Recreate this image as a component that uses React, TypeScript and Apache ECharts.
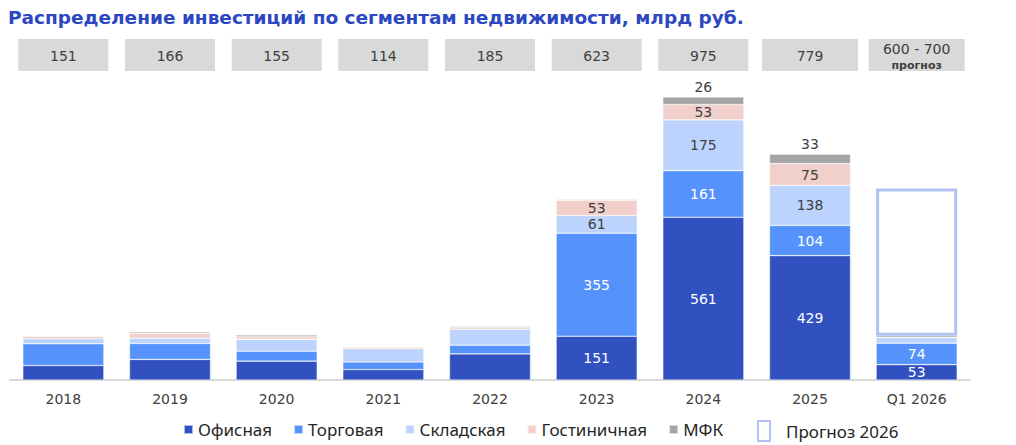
import React, { useEffect, useRef } from "react";
import * as echarts from "echarts";

const categories = ["2018", "2019", "2020", "2021", "2022", "2023", "2024", "2025", "Q1 2026"];
const office = [50, 71, 65, 36, 90, 151, 561, 429, 53];
const retail = [75, 55, 34, 26, 30, 355, 161, 104, 74];
const warehouse = [17, 18, 41, 46, 55, 61, 175, 138, 20];
const hotel = [9, 17, 9, 6, 6, 53, 53, 75, 0];
const mfk = [0, 5, 6, 0, 4, 3, 26, 33, 6];
const forecastRest = [null, null, null, null, null, null, null, null, 507];
const totals = ["151", "166", "155", "114", "185", "623", "975", "779", "600 - 700"];
const forecastNote = "прогноз";
const title = "Распределение инвестиций по сегментам недвижимости, млрд руб.";

const labelFrom = [5, 5, 5, 5, 6]; // first category index where values are labelled
const labelTo = [8, 8, 7, 7, 7];

const COLORS = {
  office: "#3151c1",
  retail: "#5592fb",
  warehouse: "#bcd3fe",
  hotel: "#f1d0cb",
  mfk: "#a5a5a5",
  forecast: "#b0c1f2",
};

const FONT = "DejaVu Sans, Verdana, sans-serif";

export default function App() {
  const ref = useRef<HTMLDivElement>(null);
  useEffect(() => {
    document.body.style.margin = "0";
    if (!ref.current) return;
    const chart = echarts.init(ref.current, null, { renderer: "svg" });

    const mkData = (arr: number[], si: number) =>
      arr.map((v, i) => ({
        value: v,
        label: { show: i >= labelFrom[si] && i <= labelTo[si] && v > 0 },
      }));

    const seg = (name: string, arr: number[], color: string, si: number, light: boolean, pos: any = "inside") => ({
      name,
      type: "bar",
      stack: "total",
      barCategoryGap: "24%",
      data: mkData(arr, si),
      itemStyle: { color, borderColor: "rgba(255,255,255,0.6)", borderWidth: 0.6 },
      label: {
        position: pos,
        color: light ? "#ffffff" : "#404040",
        fontFamily: FONT,
        fontSize: 14,
        distance: 3,
      },
      emphasis: { disabled: true },
    });

    chart.setOption({
      animation: false,
      title: {
        text: title,
        left: 3,
        top: 3,
        textStyle: { fontFamily: FONT, fontSize: 18.5, fontWeight: "bold", color: "#2d47c1" },
      },
      grid: { left: 10, right: 46, top: 90, bottom: 65, containLabel: false },
      xAxis: {
        type: "category",
        data: categories,
        axisLine: { lineStyle: { color: "#d9d9d9", width: 2 } },
        axisTick: { show: false },
        axisLabel: { color: "#404040", fontFamily: FONT, fontSize: 14, margin: 12 },
      },
      yAxis: { type: "value", min: 0, max: 1000, show: false, splitLine: { show: false } },
      legend: [
        {
          left: 178,
          top: 416,
          itemWidth: 9,
          itemHeight: 9,
          itemGap: 21,
          icon: "rect",
          textStyle: { fontFamily: "Noto Sans, sans-serif", fontSize: 17, color: "#262626" },
          data: ["Офисная", "Торговая", "Складская", "Гостиничная", "МФК"],
          selectedMode: false,
        },
        {
          left: 752,
          top: 415,
          itemWidth: 12,
          itemHeight: 20,
          icon: "rect",
          textStyle: { fontFamily: "Noto Sans, sans-serif", fontSize: 17, color: "#262626", padding: [0, 0, 0, 11] },
          data: [
            {
              name: "Прогноз 2026",
              itemStyle: { color: "#ffffff", borderColor: COLORS.forecast, borderWidth: 2 },
            },
          ],
          selectedMode: false,
        },
      ],
      series: [
        seg("Офисная", office, COLORS.office, 0, true),
        seg("Торговая", retail, COLORS.retail, 1, true),
        seg("Складская", warehouse, COLORS.warehouse, 2, false),
        seg("Гостиничная", hotel, COLORS.hotel, 3, false),
        seg("МФК", mfk, COLORS.mfk, 4, false, "top"),
        {
          name: "Прогноз 2026",
          type: "bar",
          stack: "total",
          data: forecastRest,
          itemStyle: { color: "#ffffff", borderColor: COLORS.forecast, borderWidth: 3 },
          label: { show: false },
          emphasis: { disabled: true },
        },
      ],
    });

    // Boxes with yearly totals above each category
    const graphics: any[] = [];
    categories.forEach((c, i) => {
      const cx = chart.convertToPixel({ xAxisIndex: 0 }, c) as number;
      const w = i >= 7 ? 96 : 90;
      const y = 39;
      const h = 32;
      graphics.push({
        type: "rect",
        shape: { x: cx - w / 2, y, width: w, height: h },
        style: { fill: "#d9d9d9" },
        silent: true,
      });
      if (i === categories.length - 1) {
        graphics.push({
          type: "text",
          x: cx,
          y: 49,
          style: { text: totals[i], fill: "#404040", font: `14px ${FONT}`, align: "center", verticalAlign: "middle" },
        });
        graphics.push({
          type: "text",
          x: cx,
          y: 65,
          style: { text: forecastNote, fill: "#404040", font: `bold 11px ${FONT}`, align: "center", verticalAlign: "middle" },
        });
      } else {
        graphics.push({
          type: "text",
          x: cx,
          y: 56,
          style: { text: totals[i], fill: "#404040", font: `14px ${FONT}`, align: "center", verticalAlign: "middle" },
        });
      }
    });
    chart.setOption({ graphic: graphics });

    return () => chart.dispose();
  }, []);
  return <div ref={ref} style={{ width: 1016, height: 445 }} />;
}
